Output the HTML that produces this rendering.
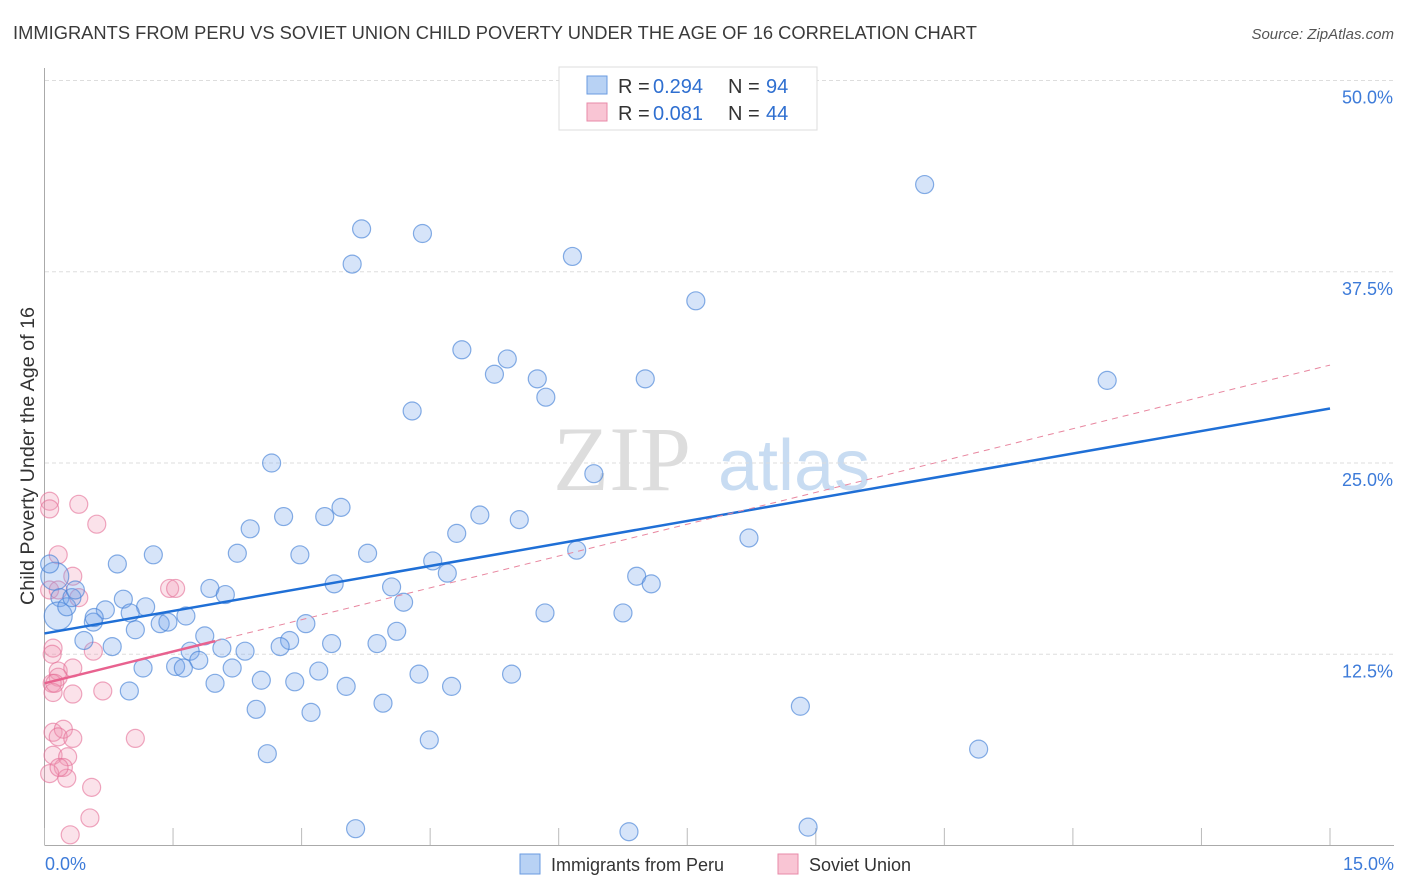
<!DOCTYPE html>
<html><head><meta charset="utf-8"><style>
body{margin:0;background:#fff;font-family:"Liberation Sans",sans-serif;}
svg{display:block}
</style></head><body>
<svg id="chart" width="1406" height="892" xmlns="http://www.w3.org/2000/svg">
<text x="13" y="39" font-size="18" fill="#3a3a3a" textLength="964" lengthAdjust="spacingAndGlyphs">IMMIGRANTS FROM PERU VS SOVIET UNION CHILD POVERTY UNDER THE AGE OF 16 CORRELATION CHART</text>
<text x="1394" y="39" font-size="15" fill="#555" font-style="italic" text-anchor="end">Source: ZipAtlas.com</text>
<g><text x="553" y="490" font-size="92" font-family="Liberation Serif,serif" fill="#ddd">ZIP</text><text x="718" y="490" font-size="72" fill="#c8dcf2">atlas</text></g>
<g id="grid"></g>
<g id="axes"></g>
<g id="pts"></g>
<g id="lines"></g>
<text transform="translate(34,456) rotate(-90)" font-size="19" fill="#333" text-anchor="middle" textLength="298" lengthAdjust="spacingAndGlyphs">Child Poverty Under the Age of 16</text>
<text x="45" y="870" font-size="18" fill="#3d7bd9">0.0%</text>
<text x="1394" y="870" font-size="18" fill="#3d7bd9" text-anchor="end">15.0%</text>
<g>
<rect x="559" y="67" width="258" height="63" fill="#fff" stroke="#ddd"/>
<rect x="587" y="76" width="20" height="18" fill="#b8d2f4" stroke="#6a9be0"/>
<rect x="587" y="103" width="20" height="18" fill="#f9c5d4" stroke="#e88aa8"/>
<text x="618" y="93" font-size="20" fill="#333">R = </text><text x="653" y="93" font-size="20" fill="#2f6fd0">0.294</text>
<text x="728" y="93" font-size="20" fill="#333">N = </text><text x="766" y="93" font-size="20" fill="#2f6fd0">94</text>
<text x="618" y="120" font-size="20" fill="#333">R = </text><text x="653" y="120" font-size="20" fill="#2f6fd0">0.081</text>
<text x="728" y="120" font-size="20" fill="#333">N = </text><text x="766" y="120" font-size="20" fill="#2f6fd0">44</text>
</g>
<g>
<rect x="520" y="854" width="20" height="20" fill="#b8d2f4" stroke="#6a9be0"/>
<text x="551" y="871" font-size="18" fill="#333">Immigrants from Peru</text>
<rect x="778" y="854" width="20" height="20" fill="#f9c5d4" stroke="#e88aa8"/>
<text x="809" y="871" font-size="18" fill="#333">Soviet Union</text>
</g>
</svg>
<script>
const yTicks=[12.5,25,37.5,50];
const yTickLabels=["12.5%","25.0%","37.5%","50.0%"];
const xTicks=[0,1.5,3,4.5,6,7.5,9,10.5,12,13.5,15];
const peruX=[10.27,3.70,4.41,3.59,6.16,7.60,4.87,5.40,5.25,5.75,7.01,5.85,12.40,4.29,2.65,6.41,3.46,2.79,3.27,5.08,5.54,4.81,2.40,8.22,1.27,2.25,2.98,3.77,6.21,4.53,0.85,4.70,6.91,7.08,3.38,4.05,1.93,2.11,0.92,4.19,1.18,0.71,1.00,1.65,5.84,6.75,3.05,0.57,1.35,1.44,1.06,1.87,4.11,2.86,3.35,3.88,0.46,0.79,2.07,2.34,2.75,1.70,1.80,1.15,1.53,1.62,2.19,3.20,4.37,5.45,1.99,2.53,2.92,3.52,4.75,0.99,3.95,2.47,3.11,8.82,4.49,2.60,10.90,3.63,6.82,8.91,0.12,0.06,0.18,0.16,0.26,0.32,0.58,0.36];
const peruY=[43.2,40.3,40.0,38.0,38.5,35.6,32.4,31.8,30.8,30.5,30.5,29.3,30.4,28.4,25.0,24.3,22.1,21.5,21.5,21.6,21.3,20.4,20.7,20.1,19.0,19.1,19.0,19.1,19.3,18.6,18.4,17.8,17.6,17.1,17.1,16.9,16.8,16.4,16.1,15.9,15.6,15.4,15.2,15.0,15.2,15.2,14.5,14.6,14.5,14.6,14.1,13.7,14.0,13.4,13.2,13.2,13.4,13.0,12.9,12.7,13.0,12.7,12.1,11.6,11.7,11.6,11.6,11.4,11.2,11.2,10.6,10.8,10.7,10.4,10.4,10.1,9.3,8.9,8.7,9.1,6.9,6.0,6.3,1.1,0.9,1.2,17.6,18.4,16.2,15.0,15.6,16.2,14.9,16.7];
const peruBig=[86,89];
const sovX=[0.06,0.06,0.40,0.61,0.16,0.33,0.06,0.16,0.40,1.46,1.53,0.10,0.09,0.57,0.16,0.33,0.16,0.09,0.10,0.33,0.68,0.10,0.22,0.16,0.33,1.06,0.10,0.27,0.22,0.06,0.26,0.55,0.53,0.30,0.17,0.12];
const sovY=[22.5,22.0,22.3,21.0,19.0,17.6,16.7,16.7,16.2,16.8,16.8,12.9,12.5,12.7,11.4,11.6,11.0,10.6,10.0,9.9,10.1,7.4,7.6,7.1,7.0,7.0,5.9,5.8,5.1,4.7,4.4,3.8,1.8,0.7,5.1,10.6];
const peruTrend=[13.86,28.56];
const sovTrend=[10.6,31.4];
const sovSolidEnd=1.99;
const NS="http://www.w3.org/2000/svg";
const X=v=>44.5+v*85.7, Y=v=>845.5-v*15.3;
function mk(tag,attrs,parent){const e=document.createElementNS(NS,tag);for(const k in attrs)e.setAttribute(k,attrs[k]);parent.appendChild(e);return e;}
const grid=document.getElementById('grid'),axes=document.getElementById('axes'),pts=document.getElementById('pts'),lines=document.getElementById('lines');
yTicks.forEach((t,i)=>{
 const l=mk('line',{x1:45,x2:1394,y1:Y(t),y2:Y(t),stroke:'#ddd','stroke-dasharray':'4,3'},grid);
 
 
 const tx=mk('text',{x:1393,y:Y(t)+23,'font-size':18,fill:'#3d7bd9','text-anchor':'end'},grid);
 tx.textContent=yTickLabels[i];
 
 
});
const ya=mk('line',{x1:44.5,x2:44.5,y1:68,y2:845,stroke:'#aaa'},axes);


const xa=mk('line',{x1:44.5,x2:1394,y1:845.5,y2:845.5,stroke:'#aaa'},axes);


xTicks.forEach(t=>{
 const l=mk('line',{x1:X(t),x2:X(t),y1:828,y2:845,stroke:'#bbb'},axes);
 
 
});
sovX.forEach((v,i)=>{
 const c=mk('circle',{cx:X(v),cy:Y(sovY[i]),r:9,fill:'rgba(242,150,178,0.28)',stroke:'rgba(228,110,150,0.6)','stroke-width':1.2},pts);
 
 
});
peruX.forEach((v,i)=>{
 const c=mk('circle',{cx:X(v),cy:Y(peruY[i]),r:peruBig.includes(i)?14:9,fill:'rgba(120,165,235,0.3)',stroke:'rgba(70,130,215,0.65)','stroke-width':1.2},pts);
 
 
});
const bl=mk('line',{x1:X(0),y1:Y(peruTrend[0]),x2:X(15),y2:Y(peruTrend[1]),stroke:'#1f6fd6','stroke-width':2.5},lines);


const sEnd=sovTrend[0]+(sovTrend[1]-sovTrend[0])*sovSolidEnd/15;
const pd=mk('line',{x1:X(sovSolidEnd),y1:Y(sEnd),x2:X(15),y2:Y(sovTrend[1]),stroke:'#e8869f','stroke-width':1,'stroke-dasharray':'6,5'},lines);


const ps=mk('line',{x1:X(0),y1:Y(sovTrend[0]),x2:X(sovSolidEnd),y2:Y(sEnd),stroke:'#e8628f','stroke-width':2.5},lines);


</script>
</body></html>
